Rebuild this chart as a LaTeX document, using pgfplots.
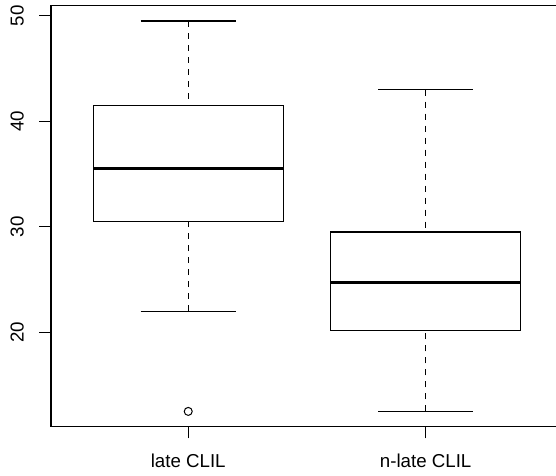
\documentclass[border=0pt]{standalone}
\usepackage{fontspec}
\setmainfont{Liberation Sans}
\usepackage{pgfplots}
\pgfplotsset{compat=1.18}
\usepgfplotslibrary{statistics}
\pgfplotsset{
  boxplot/draw/lower whisker/.code={%
    \draw[dash pattern=on 6pt off 6pt]
      (boxplot cs:\pgfplotsboxplotvalue{lower whisker}) --
      (boxplot cs:\pgfplotsboxplotvalue{lower quartile});
    \draw (boxplot whisker cs:\pgfplotsboxplotvalue{lower whisker},0) --
      (boxplot whisker cs:\pgfplotsboxplotvalue{lower whisker},1);
  },
  boxplot/draw/upper whisker/.code={%
    \draw[dash pattern=on 6pt off 6pt]
      (boxplot cs:\pgfplotsboxplotvalue{upper whisker}) --
      (boxplot cs:\pgfplotsboxplotvalue{upper quartile});
    \draw (boxplot whisker cs:\pgfplotsboxplotvalue{upper whisker},0) --
      (boxplot whisker cs:\pgfplotsboxplotvalue{upper whisker},1);
  },
  boxplot/draw/median/.code={%
    \draw[line width=3pt]
      (boxplot box cs:\pgfplotsboxplotvalue{median},0) --
      (boxplot box cs:\pgfplotsboxplotvalue{median},1);
  },
}
\begin{document}
\begin{tikzpicture}
\begin{axis}[
  at={(0,0)}, anchor=south west,
  scale only axis, width=505pt, height=421pt,
  xmin=0.422, xmax=2.549, ymin=11.05, ymax=50.95,
  axis line style={draw=none},
  clip=false,
  xtick={1,2}, xticklabels={late CLIL, n-late CLIL},
  ytick={20,30,40,50},
  tick align=outside, major tick length=11.7pt,
  xtick pos=bottom, ytick pos=left,
  every tick/.style={black, line width=1.2pt},
  tick label style={font=\fontsize{18.7}{22}\selectfont},
  /pgf/number format/assume math mode=true,
  xticklabel style={anchor=base, inner sep=0pt, yshift=-29.3pt},
  yticklabel style={inner sep=0pt, xshift=-15.3pt, rotate=90, anchor=south},
  boxplot/draw direction=y,
]
\draw[black, line width=1.2pt] (rel axis cs:1,1) -- (rel axis cs:0,1) -- (rel axis cs:0,0) -- (rel axis cs:1,0);
\addplot[draw=black, line width=1.2pt, solid, mark=o, mark size=4pt,
  mark options={line width=1pt, solid},
  boxplot prepared={draw position=1, lower whisker=22, lower quartile=30.5,
    median=35.5, upper quartile=41.5, upper whisker=49.5,
    box extend=0.8, whisker extend=0.4}]
  coordinates {(0,12.5)};
\addplot[draw=black, line width=1.2pt, solid, mark=o, mark size=4pt,
  boxplot prepared={draw position=2, lower whisker=12.5, lower quartile=20.2,
    median=24.75, upper quartile=29.5, upper whisker=43,
    box extend=0.8, whisker extend=0.4}]
  coordinates {};
\end{axis}
\pgfresetboundingbox
\useasboundingbox (-51pt,-48.3pt) rectangle (505pt,426.7pt);
\end{tikzpicture}
\end{document}
